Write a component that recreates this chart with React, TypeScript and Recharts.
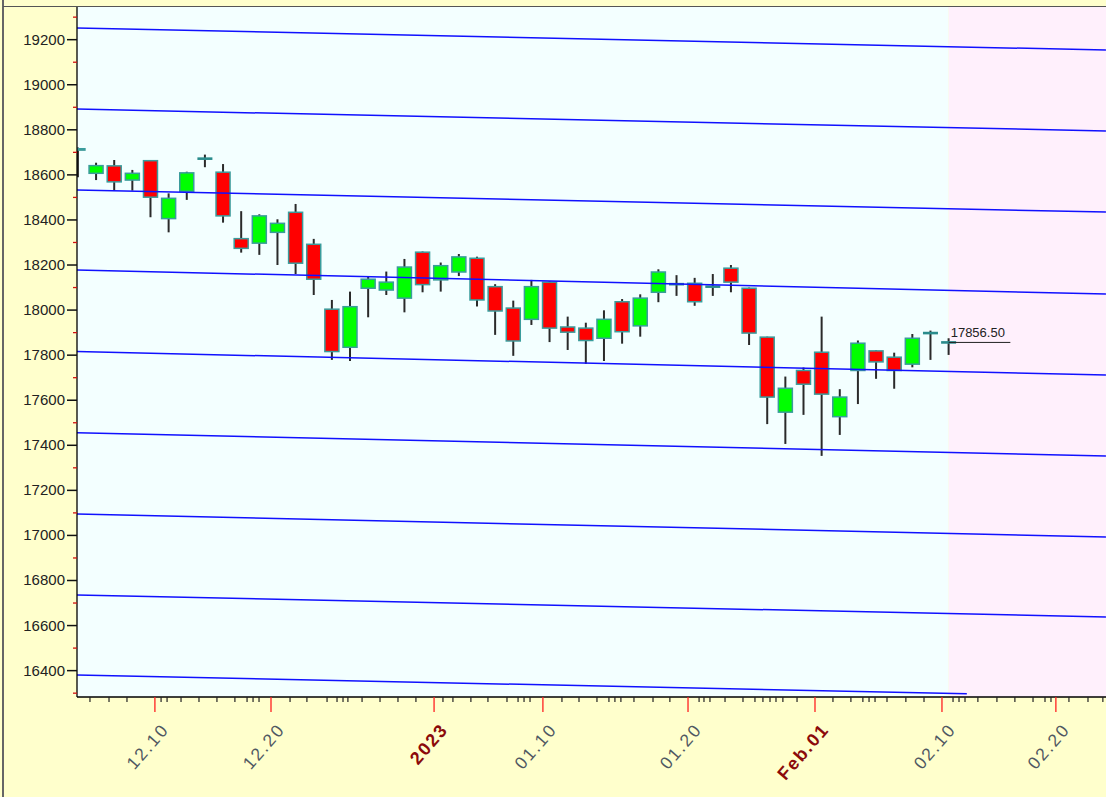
import React from "react";
import { ComposedChart, Bar, XAxis, YAxis, ReferenceLine, ReferenceArea } from "recharts";

const tradeDates = ["12.05","12.06","12.07","12.08","12.09","12.12","12.13","12.14","12.15","12.16","12.19","12.20","12.21","12.22","12.23","12.26","12.27","12.28","12.29","12.30","01.02","01.03","01.04","01.05","01.06","01.09","01.10","01.11","01.12","01.13","01.16","01.17","01.18","01.19","01.20","01.24","01.25","01.26","01.27","01.30","01.31","02.01","02.02","02.03","02.06","02.07","02.08","02.09","02.10"];
const opens = [18716,18607,18640,18577,18663,18406,18527,18670,18612,18317,18297,18345,18434,18292,18004,17835,18097,18089,18053,18257,18134,18169,18230,18104,18009,17959,18124,17925,17920,17875,18037,17930,18079,18117,18119,18105,18186,18097,17880,17547,17732,17813,17527,17732,17819,17791,17760,17896,17857];
const highs = [18722,18654,18666,18622,18665,18518,18614,18690,18648,18439,18425,18403,18471,18316,18045,18082,18149,18171,18227,18260,18211,18249,18237,18115,18042,18134,18128,17971,17944,17999,18049,18070,18181,18155,18143,18160,18200,18100,17882,17705,17745,17971,17649,17865,17822,17811,17894,17909,17875];
const lows = [18590,18577,18530,18530,18412,18345,18489,18634,18388,18255,18245,18200,18160,18067,17779,17774,17968,18067,17990,18079,18082,18151,18016,17890,17797,17934,17858,17823,17761,17774,17851,17882,18035,18063,18019,18063,18079,17845,17494,17406,17535,17353,17446,17583,17695,17651,17746,17779,17801];
const closes = [18710,18641,18569,18607,18501,18496,18609,18672,18418,18274,18418,18385,18208,18137,17816,18015,18137,18124,18191,18113,18197,18236,18045,17996,17863,18104,17920,17902,17865,17959,17904,18053,18169,18115,18037,18104,18124,17898,17614,17653,17671,17627,17614,17853,17770,17732,17875,17898,17856.5];

const lastPrice = 17856.5;
const lastPriceLabel = "17856.50";

const majorTickPos = [4.24, 10.64, 19.63, 25.63, 33.63, 40.63, 47.63, 53.91];
const majorTickLabels = ["12.10", "12.20", "2023", "01.10", "01.20", "Feb.01", "02.10", "02.20"];
const majorTickStrong = [false, false, true, false, false, true, false, false];
const minorTickPos = [0.66,1.71,2.70,4.58,4.91,5.68,6.67,7.66,8.65,9.32,9.65,9.98,11.69,12.62,13.73,14.28,14.61,14.88,15.66,16.65,17.64,18.63,20.12,20.67,21.66,22.60,23.65,24.26,24.59,24.92,26.68,27.62,28.61,29.27,29.60,29.93,30.65,31.70,32.63,34.24,34.51,34.84,35.67,36.66,37.32,37.76,38.15,38.48,38.86,39.64,41.62,42.61,43.27,43.61,43.94,44.60,45.64,46.64,48.24,48.57,48.90,49.61,50.66,51.65,52.65,53.31,53.64,54.63,55.68,56.50];

const yTicks = [16300,16400,16500,16600,16700,16800,16900,17000,17100,17200,17300,17400,17500,17600,17700,17800,17900,18000,18100,18200,18300,18400,18500,18600,18700,18800,18900,19000,19100,19200,19300,19400];

const channelStart = [19252, 18892, 18533, 18178, 17816, 17456, 17095, 16736, 16381];
const channelEnd = [19154, 18795, 18435, 18071, 17712, 17352, 16993, 16638, 16297];
const channelEndX = [56.67, 56.67, 56.67, 56.67, 56.67, 56.67, 56.67, 56.67, 49];

const X_MIN = -0.055;
const X_MAX = 57.5;
const Y_MIN = 16283;
const Y_MAX = 19345;
const FUTURE_START = 48;

const data = tradeDates.map((d, i) => ({
  i,
  date: d,
  o: opens[i],
  h: highs[i],
  l: lows[i],
  c: closes[i],
  range: [lows[i], highs[i]],
}));

const Candle = (props: any) => {
  const { x, y, width, height, payload } = props;
  if (!payload) return null;
  const { o, h, l, c } = payload;
  const top = Math.min(y, y + height);
  const bot = Math.max(y, y + height);
  const ppu = (bot - top) / (h - l);
  const cx = x + width / 2;
  const yO = top + (h - o) * ppu;
  const yC = top + (h - c) * ppu;
  const doji = Math.abs(c - o) <= 3;
  return (
    <g>
      <line x1={cx} x2={cx} y1={top} y2={bot} stroke="#2a2a2a" strokeWidth={2} />
      {doji ? (
        <rect x={cx - 7.5} y={yC - 1.3} width={15} height={2.6} fill="#2a8c8c" />
      ) : (
        <rect
          x={cx - 7}
          y={Math.min(yO, yC)}
          width={14}
          height={Math.max(1, Math.abs(yO - yC))}
          fill={c > o ? "#00ff00" : "#ff0000"}
          stroke="#3a9c9c"
          strokeWidth={1.5}
        />
      )}
    </g>
  );
};

const XTick = (props: any) => {
  const { x, y, payload } = props;
  const v = payload.value;
  const k = majorTickPos.indexOf(v);
  if (k < 0) {
    return <line x1={x} x2={x} y1={y} y2={y + 5} stroke="#222" strokeWidth={1.2} />;
  }
  const strong = majorTickStrong[k];
  const ax = x + 15;
  const ay = y + 33;
  return (
    <g>
      <line x1={x} x2={x} y1={y} y2={y + 15} stroke="#ff2020" strokeWidth={1.3} />
      <text
        x={ax}
        y={ay}
        textAnchor="end"
        transform={`rotate(-49 ${ax} ${ay})`}
        fontFamily="'Liberation Sans', Arial, sans-serif"
        fontSize={strong ? 18 : 17.5}
        letterSpacing={strong ? 1.8 : 2}
        fontWeight={strong ? 700 : 400}
        fill={strong ? "#8b0a0a" : "#4f5862"}
      >
        {majorTickLabels[k]}
      </text>
    </g>
  );
};

const YTick = (props: any) => {
  const { x, y, payload } = props;
  const v = payload.value;
  const major = v % 200 === 0;
  if (!major) {
    return <line x1={x - 4} x2={x} y1={y} y2={y} stroke="#d01010" strokeWidth={1.3} />;
  }
  return (
    <g>
      <line x1={x - 10} x2={x} y1={y} y2={y} stroke="#111" strokeWidth={1.5} />
      <text
        x={x - 12}
        y={y}
        dy={5}
        textAnchor="end"
        fontFamily="'Liberation Sans', Arial, sans-serif"
        fontSize={15}
        fill="#222"
      >
        {v}
      </text>
    </g>
  );
};

const PriceLabel = (props: any) => {
  const vb = props.viewBox || {};
  return (
    <text
      x={(vb.x || 0) + 2}
      y={(vb.y || 0) - 5}
      fontFamily="'Liberation Sans', Arial, sans-serif"
      fontSize={13}
      fill="#222"
    >
      {lastPriceLabel}
    </text>
  );
};

export default function App() {
  const xTicks = [...minorTickPos, ...majorTickPos].sort((a, b) => a - b);
  return (
    <div
      style={{
        position: "fixed",
        left: 0,
        top: 0,
        width: 1106,
        height: 797,
        overflow: "hidden",
        background: "#ffffcc",
      }}
    >
      <div style={{ position: "absolute", left: 2, top: 0, width: 2, height: 797, background: "#666" }} />
      <div style={{ position: "absolute", left: 3, top: 6, width: 1103, height: 1, background: "#555" }} />
      <div style={{ position: "absolute", left: 0, top: 0 }}>
        <ComposedChart
          width={1121}
          height={797}
          data={data}
          margin={{ top: 7, right: 0, bottom: 0, left: 0 }}
          style={{ overflow: "visible" }}
        >
          <XAxis
            dataKey="i"
            type="number"
            domain={[X_MIN, X_MAX]}
            allowDataOverflow
            ticks={xTicks}
            interval={0}
            tick={<XTick />}
            tickLine={false}
            tickSize={0}
            tickMargin={0}
            height={100}
            axisLine={{ stroke: "#000", strokeWidth: 1.3 }}
          />
          <YAxis
            type="number"
            domain={[Y_MIN, Y_MAX]}
            allowDataOverflow
            ticks={yTicks}
            interval={0}
            tick={<YTick />}
            tickLine={false}
            tickSize={0}
            tickMargin={0}
            width={77}
            axisLine={{ stroke: "#000", strokeWidth: 1.3 }}
          />
          <ReferenceArea x1={X_MIN} x2={FUTURE_START} y1={Y_MIN} y2={Y_MAX} fill="#f3ffff" fillOpacity={1} stroke="none" />
          <ReferenceArea x1={FUTURE_START} x2={X_MAX} y1={Y_MIN} y2={Y_MAX} fill="#fff0fc" fillOpacity={1} stroke="none" />
          {channelStart.map((s, k) => (
            <ReferenceLine
              key={"ch" + k}
              segment={[
                { x: X_MIN, y: s },
                { x: channelEndX[k], y: channelEnd[k] },
              ]}
              stroke="#1010ff"
              strokeWidth={1.5}
              ifOverflow="visible"
            />
          ))}
          <Bar dataKey="range" barSize={14} shape={<Candle />} isAnimationActive={false} />
          <ReferenceLine
            segment={[
              { x: FUTURE_START, y: lastPrice },
              { x: 51.4, y: lastPrice },
            ]}
            stroke="#222"
            strokeWidth={1}
            ifOverflow="visible"
            label={<PriceLabel />}
          />
        </ComposedChart>
      </div>
    </div>
  );
}
